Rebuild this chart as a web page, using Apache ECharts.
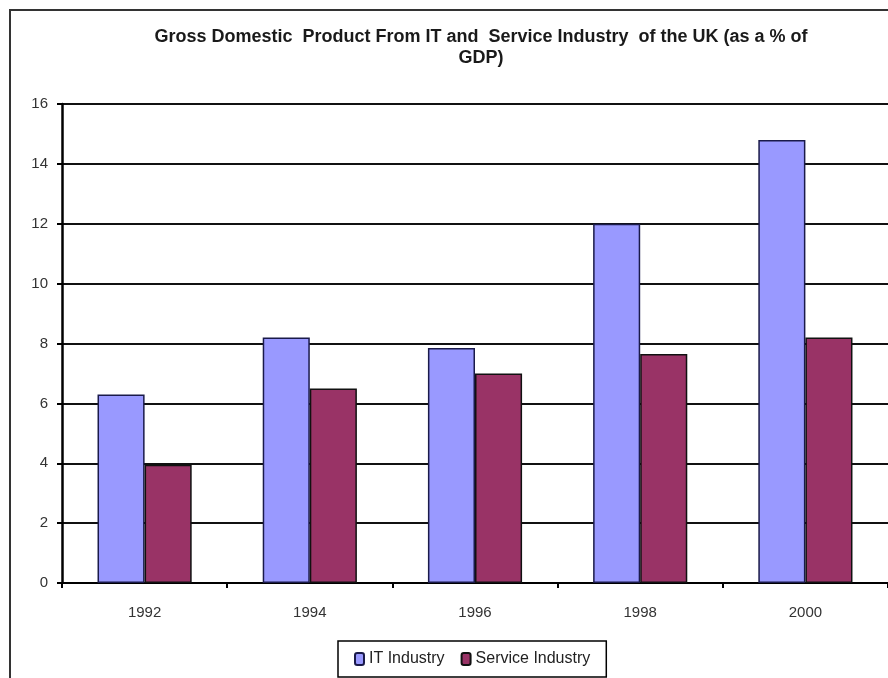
<!DOCTYPE html>
<html><head><meta charset="utf-8">
<script src="https://cdn.jsdelivr.net/npm/echarts@6/dist/echarts.min.js"></script>
<style>html,body{margin:0;padding:0;background:#fff}#c{width:888px;height:678px}</style>
</head><body><div id="c"></div>
<script>
const categories = ['1992','1994','1996','1998','2000'];
const itIndustry = [6.3, 8.2, 7.85, 12.0, 14.8];
const serviceIndustry = [3.95, 6.5, 7.0, 7.65, 8.2];
const yTicks = [0,2,4,6,8,10,12,14,16];

const chart = echarts.init(document.getElementById('c'));
chart.setOption({
  animation: false,
  backgroundColor: '#fff',
  title: {
    text: 'Gross Domestic  Product From IT and  Service Industry  of the UK (as a % of\nGDP)',
    left: 476, top: 22, textAlign: 'center',
    textStyle: {fontFamily: 'Liberation Sans, Arial', fontSize: 18, fontWeight: 'bold', color: '#1a1a1a', lineHeight: 21}
  },
  graphic: [{
    type: 'rect', shape: {x: 10, y: 10, width: 900, height: 700},
    style: {fill: 'none', stroke: '#333', lineWidth: 2}, z: -1
  }],
  legend: {
    bottom: 1, left: 338,
    itemWidth: 9, itemHeight: 12, itemGap: 16,
    borderColor: '#000', borderWidth: 1.5, padding: [10, 16],
    textStyle: {fontFamily: 'Liberation Sans, Arial', fontSize: 16, color: '#222'},
    data: ['IT Industry', 'Service Industry']
  },
  grid: {left: 62, right: -4, top: 104, bottom: 95, containLabel: false},
  xAxis: {
    type: 'category', data: categories,
    axisLine: {lineStyle: {color: '#000', width: 2}},
    axisTick: {show: true, lineStyle: {color: '#000', width: 2}, length: 5},
    axisLabel: {fontFamily: 'Liberation Sans, Arial', fontSize: 15, color: '#333', margin: 22}
  },
  yAxis: {
    type: 'value', min: 0, max: 16, interval: 2,
    axisLine: {show: true, lineStyle: {color: '#000', width: 2.5}},
    axisTick: {show: true, length: 5, lineStyle: {color: '#000', width: 2}},
    axisLabel: {fontFamily: 'Liberation Sans, Arial', fontSize: 15, color: '#333', margin: 14,
      formatter: v => yTicks.includes(v) ? String(v) : ''},
    splitLine: {lineStyle: {color: '#111', width: 1.8}}
  },
  series: [
    {name: 'IT Industry', type: 'bar', data: itIndustry, barGap: '0%', barCategoryGap: '43%',
     itemStyle: {color: '#9999FF', borderColor: '#1a1a4a', borderWidth: 1.5}},
    {name: 'Service Industry', type: 'bar', data: serviceIndustry,
     itemStyle: {color: '#993366', borderColor: '#111', borderWidth: 1.5}}
  ]
});
</script></body></html>
